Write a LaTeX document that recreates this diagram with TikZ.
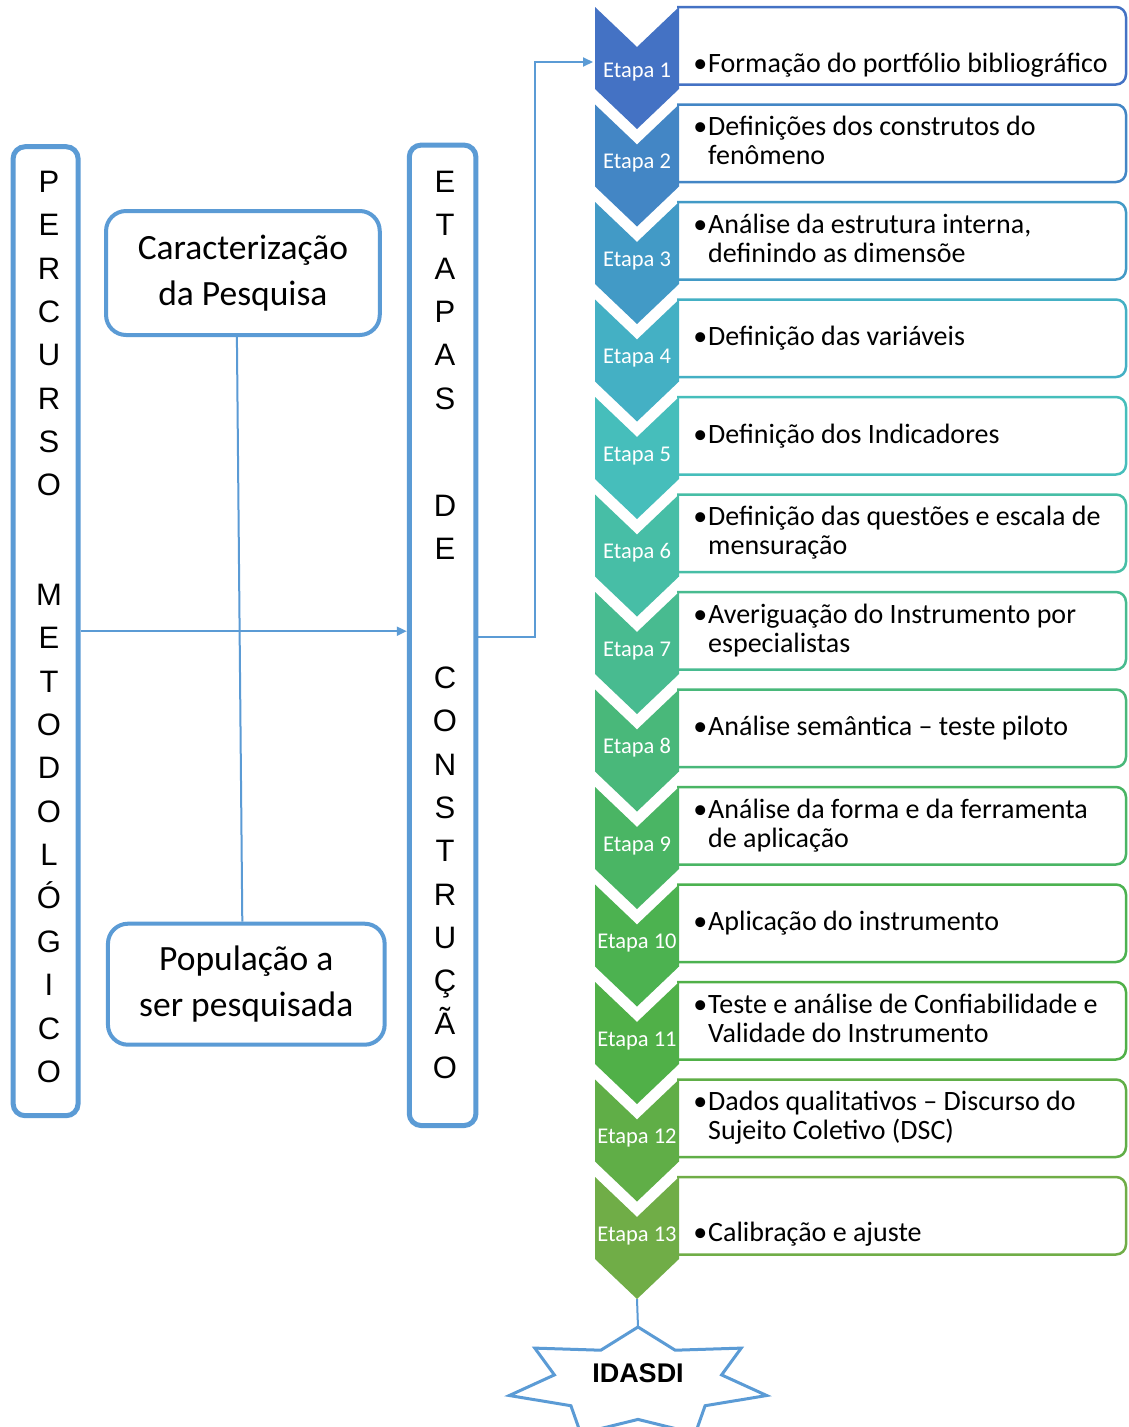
\documentclass[tikz,border=0pt]{standalone}
\usepackage{fontspec}
\setmainfont{Carlito}
\newfontfamily\arialf{Liberation Sans}
\usetikzlibrary{arrows.meta}
\definecolor{lineblue}{RGB}{91,155,213}
\definecolor{s1}{RGB}{68,114,196}
\definecolor{s2}{RGB}{67,134,197}
\definecolor{s3}{RGB}{66,154,198}
\definecolor{s4}{RGB}{68,176,196}
\definecolor{s5}{RGB}{70,190,187}
\definecolor{s6}{RGB}{71,190,166}
\definecolor{s7}{RGB}{72,187,144}
\definecolor{s8}{RGB}{73,184,122}
\definecolor{s9}{RGB}{74,181,100}
\definecolor{s10}{RGB}{76,178,80}
\definecolor{s11}{RGB}{80,176,72}
\definecolor{s12}{RGB}{96,174,71}
\definecolor{s13}{RGB}{112,173,71}
\newcommand\mkstage[3]{%
  \draw[draw=s#1, line width=2.5pt, rounded corners=10pt] (677,#2) -- (1126,#2) -- (1126,#2+77.5) -- (677,#2+77.5);
  \fill[s#1] (595,#2) -- (637,#2+40) -- (679,#2) -- (679,#2+82) -- (637,#2+122) -- (595,#2+82) -- cycle;
  \node[etlab] (e#1) at (637,#3) {Etapa #1};
}
\begin{document}
\begin{tikzpicture}[x=1pt,y=-1pt,
  conn/.style={draw=lineblue, line width=2pt},
  arr/.style={-{Triangle[length=10pt,width=9pt]}},
  tallbox/.style={draw=lineblue, line width=5pt, rounded corners=12pt, inner sep=0pt},
  softbox/.style={draw=lineblue, line width=4pt, rounded corners=20pt, align=center, inner sep=0pt, font=\fontsize{35.5}{46.5}\selectfont},
  vlet/.style={font=\arialf\fontsize{31}{31}\selectfont, anchor=base, inner sep=0pt},
  btxt/.style={font=\fontsize{28}{30}\selectfont, anchor=base west, inner sep=0pt},
  etlab/.style={font=\fontsize{22.5}{22.5}\selectfont, text=white, anchor=base, inner sep=0pt},
]
\clip (0,0) rectangle (1129,1427);
\fill[white] (0,0) rectangle (1129,1427);

% left column
\node[tallbox, minimum width=65pt, minimum height=969pt] (pm) at (45.6,631.2) {};
\node[tallbox, minimum width=66.7pt, minimum height=980.5pt] (ec) at (442.6,635.3) {};
\foreach \ch [count=\i from 0] in {P,E,R,C,U,R,S,O}
  \node[vlet] (pa\i) at (49,192.5+43.35*\i) {\ch};
\foreach \ch [count=\i from 0] in {M,E,T,O,D,O,L,Ó,G,I,C,O}
  \node[vlet] (pb\i) at (49,605.5+43.35*\i) {\ch};
\foreach \ch [count=\i from 0] in {E,T,A,P,A,S}
  \node[vlet] (ea\i) at (445,192.5+43.3*\i) {\ch};
\foreach \ch [count=\i from 0] in {D,E}
  \node[vlet] (eb\i) at (445,516.5+43.3*\i) {\ch};
\foreach \ch [count=\i from 0] in {C,O,N,S,T,R,U,Ç,Ã,O}
  \node[vlet] (ecl\i) at (445,688.5+43.3*\i) {\ch};

\node[softbox, minimum width=273.7pt, minimum height=124pt] (car) at (242.9,273) {Caracterização\\da Pesquisa};
\node[softbox, minimum width=276.7pt, minimum height=121pt] (pop) at (246.3,984.2) {População a\\ser pesquisada};
\draw[conn] ([xshift=-6pt]car.south) -- ([xshift=-4pt]pop.north);
\draw[conn, arr] (pm.east) -- (pm.east -| ec.west);
\coordinate (ch1) at (593,62);
\draw[conn, arr] ([yshift=-2pt]ec.east) -- ++(57,0) |- (ch1);

% stages
\mkstage{1}{7}{77}
\mkstage{2}{104.5}{168.5}
\mkstage{3}{202}{266}
\mkstage{4}{299.5}{363.5}
\mkstage{5}{397}{461}
\mkstage{6}{494.5}{558.5}
\mkstage{7}{592}{656}
\mkstage{8}{689.5}{753.5}
\mkstage{9}{787}{851}
\mkstage{10}{884.5}{948.5}
\mkstage{11}{982}{1046}
\mkstage{12}{1079.5}{1143.5}
\mkstage{13}{1177}{1241}

\node[btxt] (t1) at (708,72) {\llap{•\hspace{1pt}}Formação do portfólio bibliográfico};
\node[btxt] (t2a) at (708,135.5) {\llap{•\hspace{1pt}}Definições dos construtos do};
\node[btxt] (t2b) at (708,164.5) {fenômeno};
\node[btxt] (t3a) at (708,233) {\llap{•\hspace{1pt}}Análise da estrutura interna,};
\node[btxt] (t3b) at (708,262) {definindo as dimensõe};
\node[btxt] (t4) at (708,345.5) {\llap{•\hspace{1pt}}Definição das variáveis};
\node[btxt] (t5) at (708,443) {\llap{•\hspace{1pt}}Definição dos Indicadores};
\node[btxt] (t6a) at (708,525.5) {\llap{•\hspace{1pt}}Definição das questões e escala de};
\node[btxt] (t6b) at (708,554.5) {mensuração};
\node[btxt] (t7a) at (708,623) {\llap{•\hspace{1pt}}Averiguação do Instrumento por};
\node[btxt] (t7b) at (708,652) {especialistas};
\node[btxt] (t8) at (708,735.5) {\llap{•\hspace{1pt}}Análise semântica – teste piloto};
\node[btxt] (t9a) at (708,818) {\llap{•\hspace{1pt}}Análise da forma e da ferramenta};
\node[btxt] (t9b) at (708,847) {de aplicação};
\node[btxt] (t10) at (708,930.5) {\llap{•\hspace{1pt}}Aplicação do instrumento};
\node[btxt] (t11a) at (708,1013) {\llap{•\hspace{1pt}}Teste e análise de Confiabilidade e};
\node[btxt] (t11b) at (708,1042) {Validade do Instrumento};
\node[btxt] (t12a) at (708,1110.5) {\llap{•\hspace{1pt}}Dados qualitativos – Discurso do};
\node[btxt] (t12b) at (708,1139.5) {Sujeito Coletivo (DSC)};
\node[btxt] (t13) at (708,1241) {\llap{•\hspace{1pt}}Calibração e ajuste};

% final star
\coordinate (ch13) at (637,1299);
\coordinate (sttop) at (638,1327);
\draw[draw=lineblue, line width=3pt, line join=miter]
  (638,1327) -- (600.8,1350.2) -- (534.8,1348.1) -- (554.4,1374.9) -- (509.3,1395.5)
  -- (570.9,1405.7) -- (580.7,1433.5) -- (638,1419.4) -- (695.3,1433.5) -- (705.1,1405.7)
  -- (766.7,1395.5) -- (721.6,1374.9) -- (741.2,1348.1) -- (675.2,1350.2) -- cycle;
\draw[conn] (ch13) -- (sttop);
\node[font=\arialf\bfseries\fontsize{27}{27}\selectfont, anchor=base, inner sep=0pt] (idasdi) at (638,1382) {IDASDI};
\end{tikzpicture}
\end{document}
